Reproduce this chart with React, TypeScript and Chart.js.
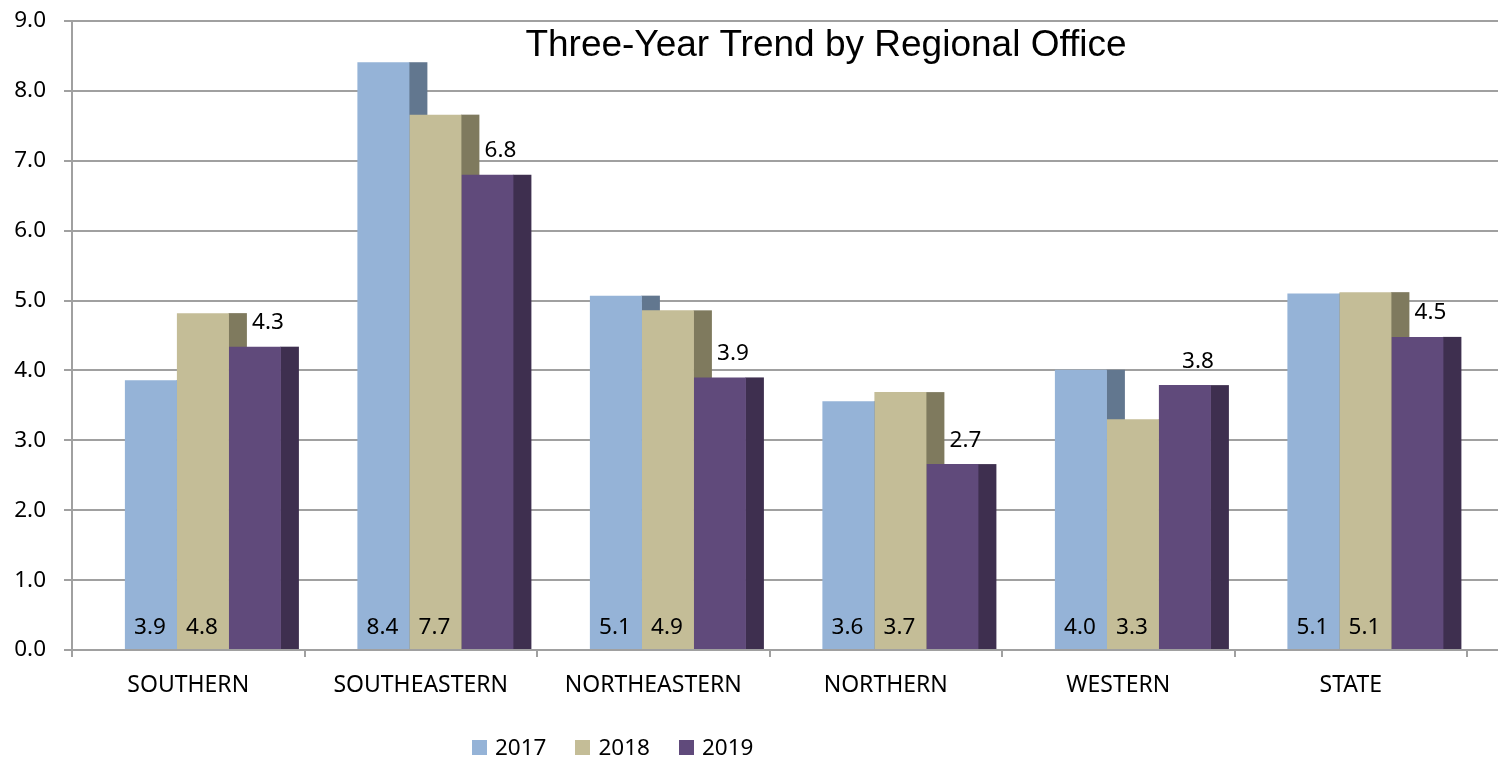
import React, { useEffect, useRef } from 'react';
import { Chart, registerables } from 'chart.js';

Chart.register(...registerables);

const categories = ['SOUTHERN', 'SOUTHEASTERN', 'NORTHEASTERN', 'NORTHERN', 'WESTERN', 'STATE'];
const seriesLabels = ['2017', '2018', '2019'];
const values2017 = [3.86, 8.41, 5.07, 3.56, 4.01, 5.1];
const values2018 = [4.82, 7.66, 4.86, 3.69, 3.3, 5.12];
const values2019 = [4.34, 6.8, 3.9, 2.66, 3.79, 4.48];
const yMin = 0;
const yMax = 9;
const yStep = 1;
const titleText = 'Three-Year Trend by Regional Office';

const frontColors = ['#95b3d7', '#c4bd97', '#604a7b'];
const sideColors = ['#62778f', '#7f7a5e', '#3e2f4f'];
const GRID = '#a0a0a0';
const TICK_FONT = '"Noto Sans", sans-serif';
const BAR_SHIFT = 0.063;
const SIDE_W = 18;

const sidesPlugin = {
  id: 'sides',
  beforeDatasetsDraw(chart: any) {
    const { ctx, chartArea, scales } = chart;
    const y = scales.y;
    ctx.save();
    ctx.strokeStyle = GRID;
    ctx.lineWidth = 2;
    y.ticks.forEach((t: any) => {
      const py = Math.round(y.getPixelForValue(t.value));
      ctx.beginPath();
      ctx.moveTo(chartArea.right, py);
      ctx.lineTo(chart.width, py);
      ctx.stroke();
    });
    chart.data.datasets.forEach((ds: any, di: number) => {
      const meta = chart.getDatasetMeta(di);
      ctx.fillStyle = sideColors[di];
      meta.data.forEach((el: any) => {
        const right = el.x + el.width / 2;
        ctx.fillRect(right - 0.5, el.y, SIDE_W + 0.5, el.base - el.y);
      });
    });
    ctx.restore();
  },
};

const labelsPlugin = {
  id: 'valueLabels',
  afterDatasetsDraw(chart: any) {
    const { ctx } = chart;
    ctx.save();
    ctx.font = `22.5px ${TICK_FONT}`;
    ctx.fillStyle = '#000';
    ctx.textAlign = 'center';
    ctx.textBaseline = 'middle';
    chart.data.datasets.forEach((ds: any, di: number) => {
      const meta = chart.getDatasetMeta(di);
      meta.data.forEach((el: any, i: number) => {
        const v = ds.data[i].y;
        const txt = v.toFixed(1);
        if (di < 2) {
          ctx.fillText(txt, el.x - 1, el.base - 21);
        } else {
          ctx.fillText(txt, el.x + 13, el.y - 24);
        }
      });
    });
    ctx.restore();
  },
};

const titlePlugin = {
  id: 'floatTitle',
  afterDraw(chart: any) {
    const { ctx, chartArea } = chart;
    ctx.save();
    ctx.font = '37px "Liberation Sans", Arial, sans-serif';
    ctx.fillStyle = '#000';
    ctx.textAlign = 'center';
    ctx.textBaseline = 'middle';
    const x = chartArea.left + (chartArea.right - chartArea.left) * 0.5405;
    ctx.fillText(titleText, x, chartArea.top + 25);
    ctx.restore();
  },
};

export default function App() {
  const canvasRef = useRef<HTMLCanvasElement | null>(null);

  useEffect(() => {
    if (!canvasRef.current) return;
    const seriesValues = [values2017, values2018, values2019];
    const chart = new Chart(canvasRef.current, {
      type: 'bar',
      data: {
        labels: categories,
        datasets: seriesValues.map((vals, di) => ({
          label: seriesLabels[di],
          data: vals.map((v, i) => ({ x: i + BAR_SHIFT, y: v })),
          backgroundColor: frontColors[di],
          borderWidth: 0,
          xAxisID: 'xb',
          yAxisID: 'y',
          categoryPercentage: 0.671,
          barPercentage: 1,
        })),
      },
      options: {
        responsive: false,
        animation: false,
        devicePixelRatio: 1,
        layout: { padding: { left: 0, right: 31, top: 21, bottom: 0 } },
        plugins: {
          legend: { display: false },
          title: { display: false },
          tooltip: { enabled: false },
        },
        scales: {
          x: {
            type: 'category',
            position: 'bottom',
            offset: true,
            afterFit: (s: any) => {
              s.height = 107;
              s.paddingLeft = 0;
              s.paddingRight = 0;
            },
            grid: {
              offset: true,
              drawOnChartArea: false,
              drawTicks: true,
              tickLength: 7,
              color: GRID,
              lineWidth: 2,
            },
            border: { display: true, color: GRID, width: 2 },
            ticks: {
              font: { family: TICK_FONT, size: 23 },
              color: '#000',
              padding: 15,
              maxRotation: 0,
              autoSkip: false,
            },
          },
          xb: {
            type: 'linear',
            display: false,
            offset: false,
            min: -0.5,
            max: 5.5,
            afterBuildTicks: (s: any) => {
              s.ticks = categories.map((_, i) => ({ value: i + BAR_SHIFT }));
            },
          },
          y: {
            type: 'linear',
            position: 'left',
            min: yMin,
            max: yMax,
            afterFit: (s: any) => {
              s.width = 72;
              s.paddingTop = 0;
              s.paddingBottom = 0;
            },
            grid: {
              color: GRID,
              lineWidth: 2,
              drawTicks: true,
              tickLength: 8,
            },
            border: { display: true, color: GRID, width: 2 },
            ticks: {
              stepSize: yStep,
              font: { family: TICK_FONT, size: 22.5 },
              color: '#000',
              padding: 18,
              callback: (v: any) => Number(v).toFixed(1),
            },
          },
        },
      } as any,
      plugins: [sidesPlugin, labelsPlugin, titlePlugin],
    });
    return () => chart.destroy();
  }, []);

  return (
    <div style={{ position: 'absolute', left: 0, top: 0, width: 1498, height: 757, background: '#fff' }}>
      <canvas ref={canvasRef} width={1498} height={757} style={{ display: 'block' }} />
      <div
        style={{
          position: 'absolute',
          left: 472,
          top: 732,
          display: 'flex',
          alignItems: 'center',
          fontFamily: TICK_FONT,
          fontSize: 22.5,
          lineHeight: '30px',
          color: '#000',
        }}
      >
        {seriesLabels.map((lab, i) => (
          <div key={lab} style={{ display: 'flex', alignItems: 'center', marginRight: 29 }}>
            <span style={{ display: 'inline-block', width: 15, height: 15, background: frontColors[i], marginRight: 8 }} />
            <span>{lab}</span>
          </div>
        ))}
      </div>
    </div>
  );
}
